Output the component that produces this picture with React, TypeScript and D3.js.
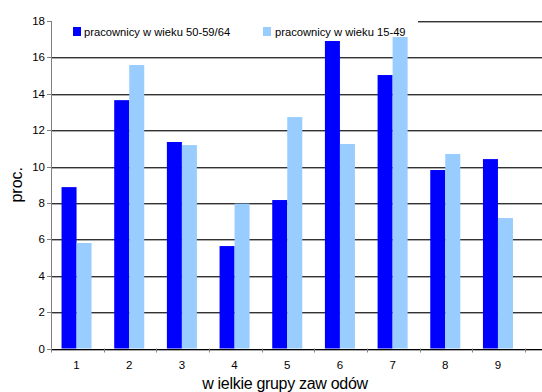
import React from "react";
import * as d3 from "d3";

const categories = ["1", "2", "3", "4", "5", "6", "7", "8", "9"];
const series1Name = "pracownicy w wieku 50-59/64";
const series2Name = "pracownicy w wieku 15-49";
const series1 = [8.87, 13.65, 11.35, 5.63, 8.16, 16.9, 15.03, 9.81, 10.41];
const series2 = [5.8, 15.58, 11.18, 7.96, 12.72, 11.24, 17.12, 10.69, 7.17];
const yTicks = [0, 2, 4, 6, 8, 10, 12, 14, 16, 18];
const xTitle = "w ielkie grupy zaw odów";
const yTitle = "proc.";

export default function App() {
  const W = 542, H = 392;
  const left = 51, right = 523.5, top = 21, bottom = 348.5;
  const x = d3.scaleBand<string>().domain(categories).range([left, right]).paddingInner(0.43).paddingOuter(0.2);
  const y = d3.scaleLinear().domain([0, 18]).range([bottom, top]);
  const bw = x.bandwidth() / 2;
  const font = "'Liberation Sans', Arial, sans-serif";
  const step = x.step();
  return (
    <svg width={W} height={H} style={{ position: "absolute", left: 0, top: 0 }}>
      <rect width={W} height={H} fill="#fff" />
      {yTicks.filter(t => t > 0).map(t => (
        <g key={t}>
          <line x1={left} x2={W} y1={Math.round(y(t)) + 0.5} y2={Math.round(y(t)) + 0.5} stroke="#333" />
          <line x1={left} x2={W} y1={Math.round(y(t)) + 1.5} y2={Math.round(y(t)) + 1.5} stroke="#aaa" />
        </g>
      ))}
      {/* legend background */}
      <rect x={left + 1} y={12} width={366} height={24} fill="#fff" />
      {categories.map((c, i) => (
        <g key={c}>
          <rect x={x(c)!} y={y(series1[i])} width={bw} height={bottom - y(series1[i])} fill="#0000FF" />
          <rect x={x(c)! + bw} y={y(series2[i])} width={bw} height={bottom - y(series2[i])} fill="#99CCFF" />
        </g>
      ))}
      <rect x={73} y={27} width={8} height={9} fill="#0000FF" />
      <text x={84} y={35.5} fontFamily={font} fontSize={11.2} fill="#000">{series1Name}</text>
      <rect x={263} y={27} width={8} height={9} fill="#99CCFF" />
      <text x={275} y={35.5} fontFamily={font} fontSize={11.2} fill="#000">{series2Name}</text>
      {/* axes */}
      <line x1={left + 0.5} x2={left + 0.5} y1={top} y2={bottom} stroke="#808080" />
      <line x1={left} x2={W} y1={Math.round(bottom) + 0.5} y2={Math.round(bottom) + 0.5} stroke="#000" />
      <line x1={left} x2={W} y1={Math.round(bottom) + 1.5} y2={Math.round(bottom) + 1.5} stroke="#aaa" />
      {yTicks.map(t => (
        <g key={t}>
          <line x1={47} x2={left} y1={Math.round(y(t)) + 0.5} y2={Math.round(y(t)) + 0.5} stroke="#808080" />
          <text x={45} y={y(t) + 4} textAnchor="end" fontFamily={font} fontSize={11.5} fill="#000">{t}</text>
        </g>
      ))}
      {d3.range(categories.length + 1).map(i => (
        <line key={i} x1={Math.round(left + i * step) + 0.5} x2={Math.round(left + i * step) + 0.5} y1={bottom} y2={bottom + 4} stroke="#808080" />
      ))}
      {categories.map(c => (
        <text key={c} x={x(c)! + x.bandwidth() / 2} y={369} textAnchor="middle" fontFamily={font} fontSize={11.5} fill="#000">{c}</text>
      ))}
      <text x={285} y={389} textAnchor="middle" fontFamily={font} fontSize={16} letterSpacing={-0.3} fill="#000">{xTitle}</text>
      <text transform={`translate(22,${(top + bottom) / 2}) rotate(-90)`} textAnchor="middle" fontFamily={font} fontSize={16} fill="#000">{yTitle}</text>
    </svg>
  );
}
